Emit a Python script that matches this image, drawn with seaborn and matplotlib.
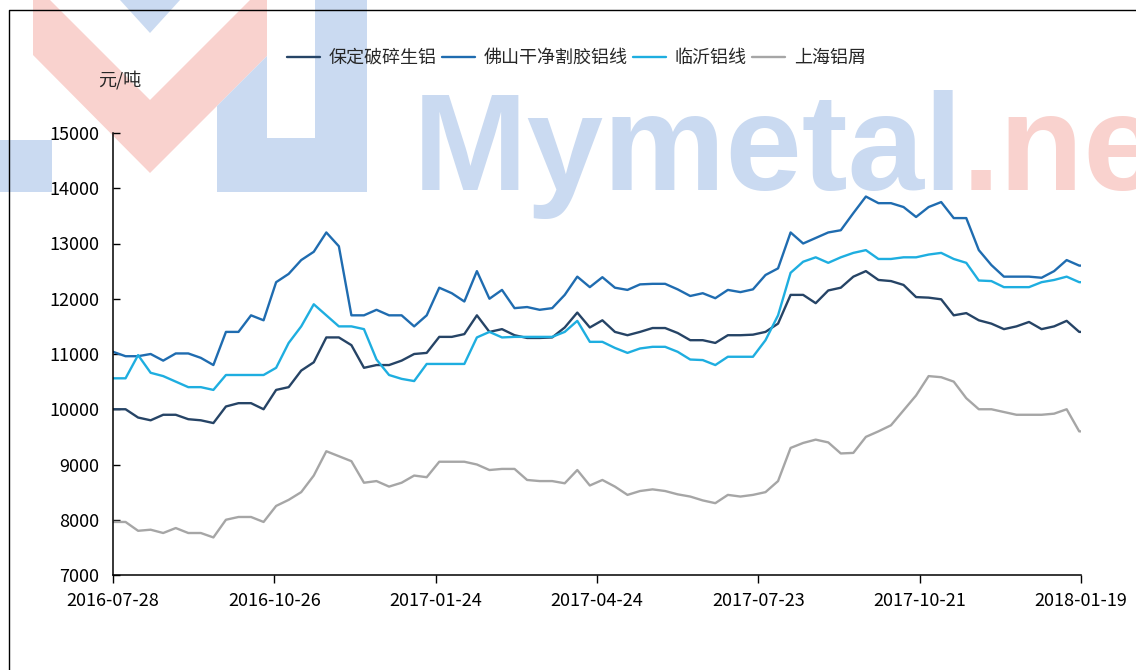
import matplotlib
matplotlib.use('Agg')
import matplotlib.pyplot as plt
import matplotlib.dates as mdates
from matplotlib.patches import Polygon
from matplotlib.lines import Line2D
import seaborn as sns
import pandas as pd

# weekly readings, last point is 2018-01-19
dates = list(pd.date_range('2016-07-28', periods=78, freq='7D')) + [pd.Timestamp('2018-01-19')]

baoding = [10000, 10000, 9850, 9800, 9900, 9900, 9820, 9800, 9750, 10050,
           10110, 10110, 10000, 10350, 10400, 10700, 10850, 11300, 11300, 11160,
           10750, 10800, 10800, 10880, 11000, 11020, 11310, 11310, 11360, 11700,
           11400, 11450, 11340, 11290, 11290, 11300, 11480, 11750, 11480, 11610,
           11400, 11340, 11400, 11470, 11470, 11380, 11250, 11250, 11200, 11340,
           11340, 11350, 11400, 11550, 12070, 12070, 11920, 12150, 12200, 12400,
           12500, 12340, 12320, 12250, 12030, 12020, 11990, 11700, 11740, 11610,
           11550, 11450, 11500, 11580, 11450, 11500, 11600, 11400, 11400]
foshan = [11040, 10960, 10960, 11000, 10880, 11010, 11010, 10930, 10800, 11400,
          11400, 11700, 11610, 12300, 12450, 12700, 12850, 13200, 12950, 11700,
          11700, 11800, 11700, 11700, 11500, 11700, 12200, 12100, 11950, 12500,
          12000, 12160, 11830, 11850, 11800, 11830, 12070, 12400, 12210, 12390,
          12200, 12160, 12260, 12270, 12270, 12170, 12050, 12100, 12010, 12160,
          12120, 12170, 12430, 12550, 13200, 13000, 13100, 13200, 13240, 13550,
          13850, 13730, 13730, 13660, 13480, 13660, 13750, 13460, 13460, 12880,
          12610, 12400, 12400, 12400, 12380, 12500, 12700, 12600, 12600]
linyi = [10560, 10560, 10980, 10660, 10600, 10500, 10400, 10400, 10350, 10620,
         10620, 10620, 10620, 10750, 11200, 11500, 11900, 11700, 11500, 11500,
         11450, 10900, 10620, 10550, 10510, 10820, 10820, 10820, 10820, 11300,
         11400, 11300, 11310, 11310, 11310, 11310, 11400, 11600, 11220, 11220,
         11110, 11020, 11100, 11130, 11130, 11040, 10900, 10890, 10800, 10950,
         10950, 10950, 11250, 11700, 12470, 12670, 12750, 12650, 12750, 12830,
         12880, 12720, 12720, 12750, 12750, 12800, 12830, 12720, 12650, 12330,
         12320, 12210, 12210, 12210, 12300, 12340, 12400, 12300, 12300]
shanghai = [7960, 7960, 7800, 7820, 7760, 7850, 7760, 7760, 7680, 8000,
            8050, 8050, 7960, 8250, 8360, 8500, 8800, 9240, 9150, 9060,
            8670, 8700, 8600, 8670, 8800, 8770, 9050, 9050, 9050, 9000,
            8900, 8920, 8920, 8720, 8700, 8700, 8660, 8900, 8620, 8720,
            8600, 8450, 8520, 8550, 8520, 8460, 8420, 8350, 8300, 8450,
            8420, 8450, 8500, 8700, 9300, 9390, 9450, 9400, 9200, 9210,
            9500, 9600, 9710, 9980, 10250, 10600, 10580, 10500, 10200, 10000,
            10000, 9950, 9900, 9900, 9900, 9920, 10000, 9600, 9600]

names = ['保定破碎生铝', '佛山干净割胶铝线', '临沂铝线', '上海铝屑']
colors = ['#264466', '#1f6cb0', '#1eaee0', '#a6a6a6']
xticks = ['2016-07-28', '2016-10-26', '2017-01-24', '2017-04-24',
          '2017-07-23', '2017-10-21', '2018-01-19']

df = pd.DataFrame({'日期': dates, names[0]: baoding, names[1]: foshan,
                   names[2]: linyi, names[3]: shanghai})
long = df.melt(id_vars='日期', var_name='品种', value_name='价格')

sns.set_theme(style='ticks')
plt.rcParams['font.family'] = ['Noto Sans CJK SC', 'DejaVu Sans']

W, H = 1136, 670
fig = plt.figure(figsize=(W / 100, H / 100), dpi=100)


def px(pts):
    return [(x / W, 1 - y / H) for x, y in pts]


# watermark (logo + site name)
pink = '#f9d2ce'
blue = '#cadaf1'
fig.patches.append(Polygon(px([(33, 0), (33, 55), (150, 173), (267, 56), (267, 0),
                               (250, 0), (150, 100), (50, 0)]),
                           closed=True, transform=fig.transFigure, fc=pink, ec='none', zorder=-3))
fig.patches.append(Polygon(px([(120, 0), (180, 0), (150, 33)]),
                           closed=True, transform=fig.transFigure, fc=blue, ec='none', zorder=-3))
fig.patches.append(Polygon(px([(217, 106), (267, 56), (267, 138), (315, 138), (315, 0),
                               (367, 0), (367, 192), (217, 192)]),
                           closed=True, transform=fig.transFigure, fc=blue, ec='none', zorder=-3))
fig.patches.append(Polygon(px([(0, 140), (52, 140), (52, 192), (0, 192)]),
                           closed=True, transform=fig.transFigure, fc=blue, ec='none', zorder=-3))
fig.text(413 / W, 1 - 190 / H, 'Mymetal', fontsize=99, family='Liberation Sans',
         weight='bold', color=blue, ha='left', va='baseline', zorder=-3)
fig.text(962 / W, 1 - 190 / H, '.net', fontsize=99, family='Liberation Sans',
         weight='bold', color=pink, ha='left', va='baseline', zorder=-3)

# outer frame
fig.lines.append(Line2D([9 / W, 9 / W, 1.0], [0, 1 - 10 / H, 1 - 10 / H],
                        transform=fig.transFigure, color='black', lw=1, zorder=-1))

ax = fig.add_axes([113 / W, 95 / H, 968 / W, 442 / H])
ax.patch.set_alpha(0)
sns.lineplot(data=long, x='日期', y='价格', hue='品种', palette=colors,
             linewidth=1.7, ax=ax)

ax.set_xlim(dates[0], dates[-1])
ax.set_ylim(7000, 15000)
ax.set_yticks(range(7000, 15001, 1000))
ax.set_xticks(pd.to_datetime(xticks))
ax.xaxis.set_major_formatter(mdates.DateFormatter('%Y-%m-%d'))
ax.set_xlabel('')
ax.set_ylabel('')
sns.despine(ax=ax)
for s in ['left', 'bottom']:
    ax.spines[s].set_color('black')
    ax.spines[s].set_linewidth(1.1)
ax.tick_params(axis='y', direction='in', length=5, width=1, pad=10,
               labelsize=13, colors='black')
ax.tick_params(axis='x', direction='out', length=6, width=1, pad=6,
               labelsize=13, colors='black')

handles, labels = ax.get_legend_handles_labels()
ax.legend_.remove()
fig.legend(handles, labels, loc='center', bbox_to_anchor=(0.5075, 1 - 58 / H),
           ncol=4, frameon=False, fontsize=13, handlelength=1.8,
           handletextpad=0.5, columnspacing=0.3)
fig.text(120 / W, 1 - 80 / H, '元/吨', ha='center', va='center', fontsize=13)

fig.savefig('out.png', dpi=100)
